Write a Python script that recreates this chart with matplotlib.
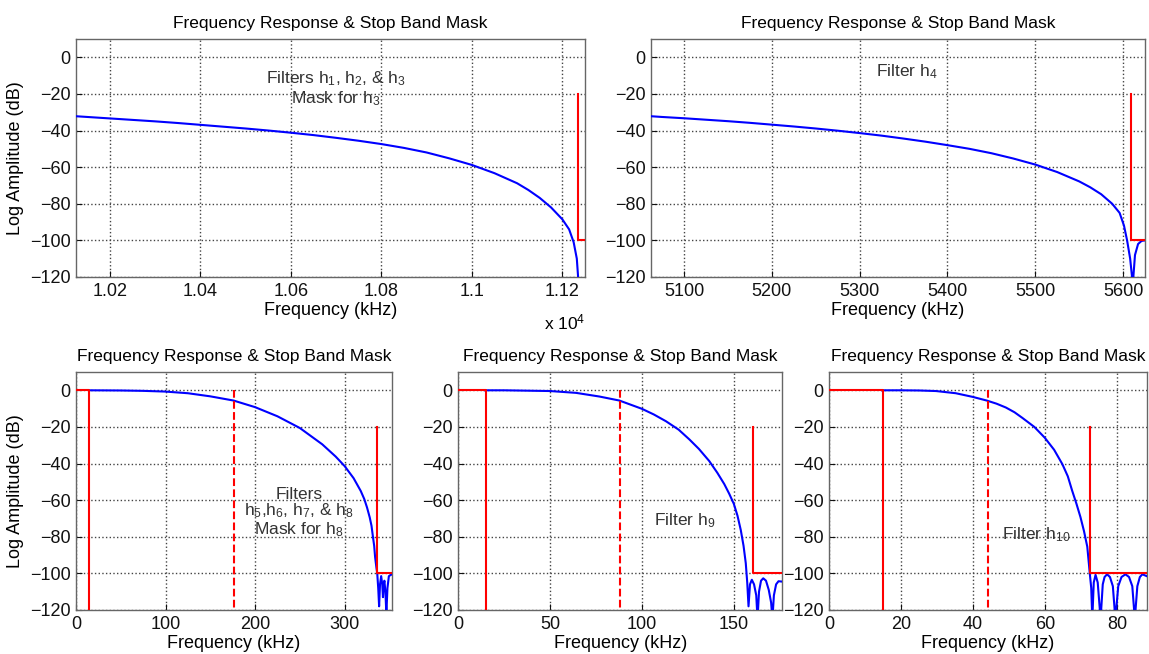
"""Frequency response and stop band masks for the filter cascade (5 panels)."""
import matplotlib

matplotlib.use("Agg")
import matplotlib.pyplot as plt
from matplotlib.ticker import FuncFormatter

plt.rcParams["font.family"] = ["Liberation Sans", "DejaVu Sans"]
plt.rcParams["mathtext.fontset"] = "custom"
plt.rcParams["mathtext.rm"] = "Liberation Sans"
plt.rcParams["mathtext.it"] = "Liberation Sans"

TITLE = "Frequency Response & Stop Band Mask"
YTICKS = [0, -20, -40, -60, -80, -100, -120]

# --- panel 1: filters h1, h2, h3 (kHz, dB) ---
H3_F = [10125, 10150, 10200, 10250, 10300, 10350, 10400, 10450, 10500,
        10550, 10600, 10650, 10700, 10750, 10800, 10850, 10900, 10950,
        11000, 11050, 11100, 11125, 11150, 11175, 11200, 11215, 11225,
        11232, 11236]
H3_DB = [-32.2, -32.6, -33.4, -34.2, -35.0, -35.9, -36.9, -37.9, -38.9,
         -40.0, -41.2, -42.5, -44.0, -45.6, -47.4, -49.5, -52.0, -55.2,
         -58.8, -63.3, -68.8, -72.5, -76.8, -82.0, -88.5, -94.0, -101.0,
         -110.0, -124.0]
H3_XLIM = (10125, 11250)
H3_STOP = 11235
H3_XTICKS = [10200, 10400, 10600, 10800, 11000, 11200]

# --- panel 2: filter h4 ---
H4_F = [5062.5, 5075, 5100, 5125, 5150, 5175, 5200, 5225, 5250, 5275, 5300,
        5325, 5350, 5375, 5400, 5425, 5450, 5475, 5500, 5525, 5550, 5562.5,
        5575, 5587.5, 5596, 5601, 5604.5, 5608, 5611, 5613.5, 5617, 5621,
        5625]
H4_DB = [-32.2, -32.6, -33.3, -34.1, -34.9, -35.8, -36.8, -37.8, -38.9,
         -40.1, -41.4, -42.8, -44.4, -46.1, -48.0, -50.0, -52.4, -55.3,
         -58.6, -62.7, -67.8, -71.0, -74.8, -80.0, -85.0, -92.0, -100.0,
         -110.0, -124.0, -108.0, -102.0, -100.3, -100.0]
H4_XLIM = (5062.5, 5625)
H4_STOP = 5609
H4_XTICKS = [5100, 5200, 5300, 5400, 5500, 5600]

# --- panel 3: filters h5..h8 ---
H8_F = [15, 50, 75, 100, 125, 150, 176, 200, 225, 250, 275, 290, 300, 310,
        318, 322, 325, 328, 330, 331.6, 333, 334, 335.5, 336.4, 337.5,
        338.5, 339.5, 340.8, 342, 342.8, 343.6, 344.4, 345.5, 346.6, 347.8,
        349.4, 351, 352.8]
H8_DB = [0.0, -0.1, -0.3, -0.7, -1.6, -3.3, -5.6, -9.2, -14.2, -20.6,
         -29.5, -36.2, -41.4, -48.0, -55.0, -59.5, -64.0, -69.4, -74.0,
         -80.0, -85.0, -91.0, -97.0, -100.0, -108.0, -118.0, -106.0, -101.5,
         -106.0, -113.0, -106.0, -104.0, -110.0, -122.0, -108.0, -101.5,
         -101.0, -100.5]
H8_XLIM = (0, 352.8)
H8_PASS = 15
H8_HALF = 176.4
H8_STOP = 336.6
H8_XTICKS = [0, 100, 200, 300]

# --- panel 4: filter h9 ---
H9_F = [14.5, 25, 50, 64.2, 76.9, 87.8, 100, 106.5, 113.1, 120, 125.8, 131,
        136.6, 141, 144.8, 147.5, 150, 152, 153.8, 155.3, 156.5, 157.3, 158,
        158.8, 159.8, 161, 162.2, 162.9, 163.7, 164.8, 166, 167.5, 169,
        170.3, 171, 171.8, 173, 174.3, 176.4]
H9_DB = [0.0, 0.0, -0.4, -1.4, -3.4, -5.6, -10.1, -13.2, -16.9, -21.5,
         -26.8, -32.0, -38.6, -45.0, -51.2, -56.5, -62.0, -68.5, -76.4,
         -85.0, -94.4, -105.0, -118.0, -106.0, -103.5, -106.0, -112.0,
         -125.0, -110.0, -104.0, -102.7, -104.0, -109.0, -116.0, -125.0,
         -112.0, -106.0, -104.3, -104.5]
H9_XLIM = (0, 176.4)
H9_PASS = 15
H9_HALF = 88.2
H9_STOP = 160.6
H9_XTICKS = [0, 50, 100, 150]

# --- panel 5: filter h10 ---
H10_F = [14.7, 19.7, 25, 29.7, 35.2, 39.9, 43.8, 46.5, 49.1, 51.5, 53.7, 57,
         59.9, 62.5, 64.8, 66.3, 67.5, 68.7, 69.8, 70.8, 71.7, 72.4, 72.8,
         73.1, 73.5, 74.0, 74.6, 75.4, 76.0, 76.5, 77.2, 78.0, 78.8, 79.5,
         80.3, 81.2, 82.3, 83.3, 84.2, 84.9, 85.6, 86.3, 87.0, 88.2]
H10_DB = [0.0, 0.0, -0.1, -0.4, -1.6, -3.6, -5.6, -7.3, -9.4, -12.0, -15.1,
          -20.0, -25.9, -32.5, -40.4, -47.0, -54.8, -62.0, -69.2, -77.0,
          -85.4, -100.0, -108.0, -125.0, -105.0, -100.8, -105.0, -125.0,
          -106.0, -102.0, -100.5, -102.0, -107.0, -125.0, -107.0, -102.0,
          -100.5, -102.0, -107.0, -125.0, -107.0, -102.0, -100.5, -101.5]
H10_XLIM = (0, 88.2)
H10_PASS = 15
H10_HALF = 44.1
H10_STOP = 72.4
H10_XTICKS = [0, 20, 40, 60, 80]

BLUE = "#0000ff"
RED = "#ff0000"
TXT = "#333333"
FS = 13


def style_axes(ax, xlim, xticks, ylabel=False):
    ax.set_xlim(*xlim)
    ax.set_ylim(-120, 10)
    ax.set_xticks(xticks)
    ax.set_yticks(YTICKS)
    ax.grid(True, linestyle=":", color="#444444", linewidth=1.0)
    ax.tick_params(direction="in", length=4, labelsize=FS, pad=4,
                   colors="#111111")
    for s in ax.spines.values():
        s.set_color("#666666")
        s.set_linewidth(1.0)
    ax.set_title(TITLE, fontsize=12.5, pad=8)
    ax.set_xlabel("Frequency (kHz)", fontsize=FS, labelpad=2)
    if ylabel:
        ax.set_ylabel("Log Amplitude (dB)", fontsize=FS, labelpad=4)


def stop_mask(ax, stop, xmax):
    ax.plot([stop, stop, xmax], [-20, -100, -100], color=RED, lw=1.5,
            zorder=4)


def pass_mask(ax, pas, half):
    ax.plot([0, pas, pas], [0, 0, -120], color=RED, lw=1.5, zorder=4)
    ax.plot([half, half], [0, -120], color=RED, lw=1.5, ls="--", zorder=4)


fig = plt.figure(figsize=(11.49, 6.54), dpi=100)

# top row
ax1 = fig.add_axes([0.0661, 0.5765, 0.4430, 0.3639])
ax1.plot(H3_F, H3_DB, color=BLUE, lw=1.5, zorder=3)
stop_mask(ax1, H3_STOP, H3_XLIM[1])
style_axes(ax1, H3_XLIM, H3_XTICKS, ylabel=True)
ax1.xaxis.set_major_formatter(FuncFormatter(lambda v, p: f"{v / 1e4:g}"))
ax1.text(1.0, -0.19, r"x 10$^{4}$", transform=ax1.transAxes, ha="right",
         va="center", fontsize=12.5)
ax1.text(10700, -17, "Filters h$_1$, h$_2$, & h$_3$\nMask for h$_3$",
         ha="center", va="center", fontsize=12.5, color=TXT, linespacing=1.1)

ax2 = fig.add_axes([0.5666, 0.5765, 0.4300, 0.3639])
ax2.plot(H4_F, H4_DB, color=BLUE, lw=1.5, zorder=3)
stop_mask(ax2, H4_STOP, H4_XLIM[1])
style_axes(ax2, H4_XLIM, H4_XTICKS)
ax2.text(5354, -8, "Filter h$_4$", ha="center", va="center", fontsize=12.5,
         color=TXT)

# bottom row
ax3 = fig.add_axes([0.0661, 0.0673, 0.2750, 0.3639])
ax3.plot(H8_F, H8_DB, color=BLUE, lw=1.5, zorder=3)
pass_mask(ax3, H8_PASS, H8_HALF)
stop_mask(ax3, H8_STOP, H8_XLIM[1])
style_axes(ax3, H8_XLIM, H8_XTICKS, ylabel=True)
ax3.text(249, -67, "Filters\nh$_5$,h$_6$, h$_7$, & h$_8$\nMask for h$_8$",
         ha="center", va="center", fontsize=12.5, color=TXT, linespacing=1.0)

ax4 = fig.add_axes([0.3986, 0.0673, 0.2823, 0.3639])
ax4.plot(H9_F, H9_DB, color=BLUE, lw=1.5, zorder=3)
pass_mask(ax4, H9_PASS, H9_HALF)
stop_mask(ax4, H9_STOP, H9_XLIM[1])
style_axes(ax4, H9_XLIM, H9_XTICKS)
ax4.text(123.4, -71, "Filter h$_9$", ha="center", va="center",
         fontsize=12.5, color=TXT)

ax5 = fig.add_axes([0.7215, 0.0673, 0.2765, 0.3639])
ax5.plot(H10_F, H10_DB, color=BLUE, lw=1.5, zorder=3)
pass_mask(ax5, H10_PASS, H10_HALF)
stop_mask(ax5, H10_STOP, H10_XLIM[1])
style_axes(ax5, H10_XLIM, H10_XTICKS)
ax5.text(57.4, -79, "Filter h$_{10}$", ha="center", va="center",
         fontsize=12.5, color=TXT)

fig.savefig("out.png", dpi=100)
